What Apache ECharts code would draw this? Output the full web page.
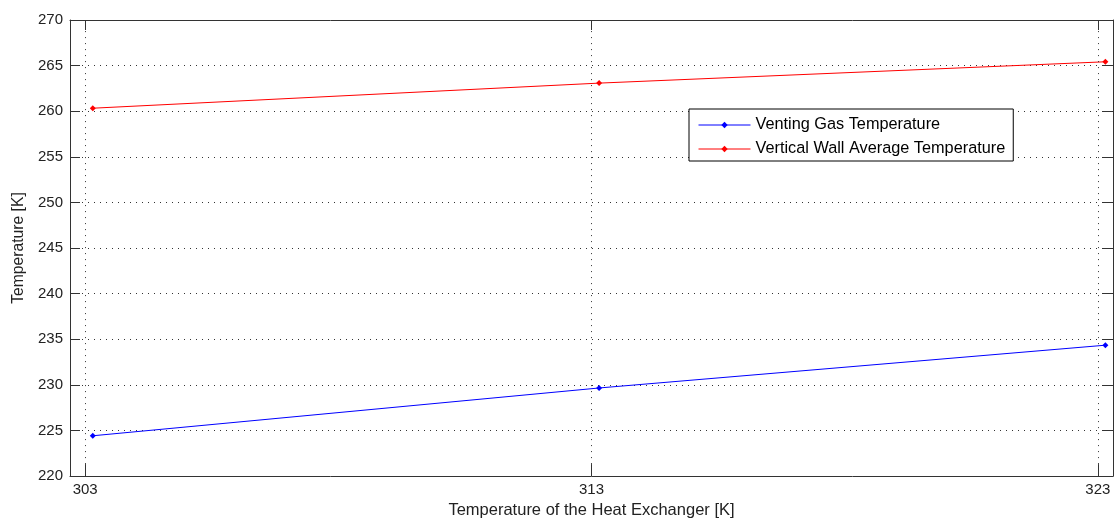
<!DOCTYPE html>
<html><head><meta charset="utf-8">
<script src="https://cdn.jsdelivr.net/npm/echarts@6/dist/echarts.min.js"></script>
<style>html,body{margin:0;padding:0;background:#fff}#c{width:1115px;height:524px}</style>
</head><body><div id="c"></div>
<script>
const xValues = [303.15, 313.15, 323.15];
const ventingGas = [224.42, 229.66, 234.35];
const wallAvg = [260.33, 263.08, 265.42];
const xTicks = [303, 313, 323];
const seriesNames = ['Venting Gas Temperature', 'Vertical Wall Average Temperature'];
const xName = 'Temperature of the Heat Exchanger [K]';
const yName = 'Temperature [K]';

const font = 'Liberation Sans, Arial, sans-serif';
const gridStyle = {color: '#333', width: 1, type: [1, 5]};
const chart = echarts.init(document.getElementById('c'));
const pair = (xs, ys) => xs.map((x, i) => [x, ys[i]]);

chart.setOption({
  animation: false,
  backgroundColor: '#fff',
  grid: {left: 70, right: 2, top: 20, bottom: 46, show: false},
  legend: {
    orient: 'vertical', left: 689, top: 109,
    padding: [8, 8, 4, 9], itemGap: 8, itemWidth: 52, itemHeight: 8,
    borderColor: '#000', borderWidth: 1, backgroundColor: '#fff', borderRadius: 0,
    lineStyle: {width: 1},
    textStyle: {fontFamily: font, fontSize: 16.3, color: '#000'},
    data: seriesNames
  },
  xAxis: [{
    type: 'value', min: 302.7, max: 323.3, position: 'bottom',
    name: xName, nameLocation: 'middle', nameGap: 25,
    nameTextStyle: {fontFamily: font, fontSize: 16.5, color: '#222'},
    axisLine: {show: true, onZero: false, lineStyle: {color: '#333', width: 1}},
    axisTick: {show: true, inside: true, length: 12, customValues: xTicks, lineStyle: {color: '#333'}},
    axisLabel: {customValues: xTicks, fontFamily: font, fontSize: 15, color: '#222', margin: 6},
    splitLine: {show: false}
  }, {
    type: 'value', min: 302.7, max: 323.3, position: 'top',
    axisLine: {show: true, onZero: false, lineStyle: {color: '#333', width: 1}},
    axisTick: {show: true, inside: true, length: 10, customValues: xTicks, lineStyle: {color: '#333'}},
    axisLabel: {show: false, customValues: xTicks},
    splitLine: {show: false}
  }],
  yAxis: [{
    type: 'value', min: 220, max: 270, interval: 5, position: 'left',
    name: yName, nameLocation: 'middle', nameGap: 42,
    nameTextStyle: {fontFamily: font, fontSize: 15.7, color: '#222'},
    axisLine: {show: true, onZero: false, lineStyle: {color: '#333', width: 1}},
    axisTick: {show: true, inside: true, length: 10, lineStyle: {color: '#333'}},
    axisLabel: {fontFamily: font, fontSize: 15, color: '#222', margin: 7},
    splitLine: {show: true, lineStyle: gridStyle}
  }, {
    type: 'value', min: 220, max: 270, interval: 5, position: 'right',
    axisLine: {show: true, onZero: false, lineStyle: {color: '#333', width: 1}},
    axisTick: {show: true, inside: true, length: 10, lineStyle: {color: '#333'}},
    axisLabel: {show: false},
    splitLine: {show: false}
  }],
  series: [{
    name: seriesNames[0], type: 'line', data: pair(xValues, ventingGas),
    symbol: 'diamond', symbolSize: 6, color: '#0000ff',
    lineStyle: {width: 1, color: '#0000ff'}, itemStyle: {color: '#0000ff'},
    markLine: {silent: true, symbol: 'none', label: {show: false}, lineStyle: gridStyle,
      data: xTicks.map(v => ({xAxis: v}))}
  }, {
    name: seriesNames[1], type: 'line', data: pair(xValues, wallAvg),
    symbol: 'diamond', symbolSize: 6, color: '#ff0000',
    lineStyle: {width: 1, color: '#ff0000'}, itemStyle: {color: '#ff0000'}
  }]
});
</script></body></html>
